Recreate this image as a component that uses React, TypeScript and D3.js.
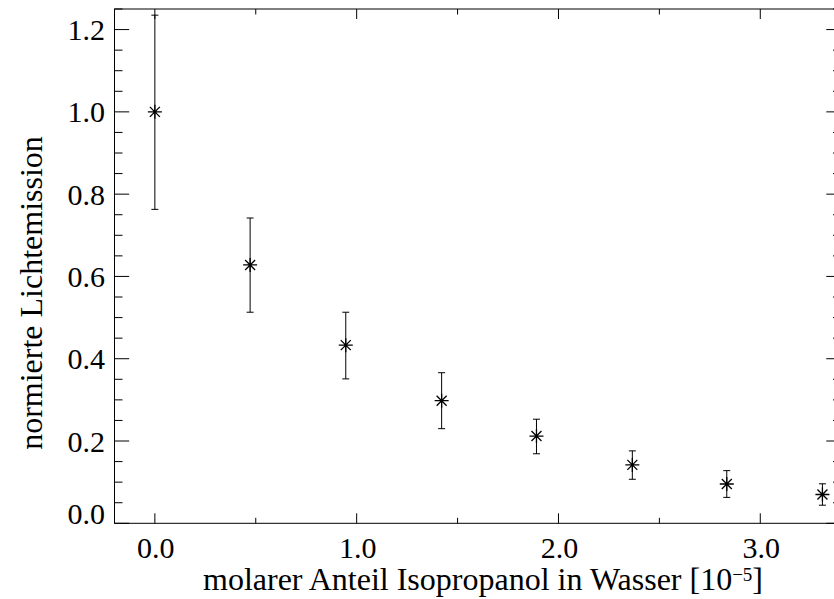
import React from "react";
import * as d3 from "d3";

const xValues = [0, 0.472, 0.946, 1.421, 1.891, 2.366, 2.834, 3.308];
const yValues = [1.0, 0.628, 0.433, 0.298, 0.212, 0.142, 0.0955, 0.07];
const yUpper = [1.235, 0.742, 0.513, 0.366, 0.253, 0.176, 0.128, 0.096];
const yLower = [0.763, 0.513, 0.351, 0.23, 0.169, 0.107, 0.063, 0.044];

const xMajorTicks = [0, 1, 2, 3];
const xMinorTicks = [0.5, 1.5, 2.5];
const yMajorTicks = [0, 0.2, 0.4, 0.6, 0.8, 1.0, 1.2];

const xTitle = "molarer Anteil Isopropanol in Wasser [10";
const xTitleExp = "\u22125";
const yTitle = "normierte Lichtemission";

const W = 834;
const H = 599;
const left = 114.5;
const right = 841;
const top = 9;
const bottom = 523.3;

export default function App() {
  const x = d3.scaleLinear().domain([-0.2, 3.4]).range([left, right]);
  const y = d3.scaleLinear().domain([0, 1.25]).range([bottom, top]);
  const fmt = d3.format(".1f");
  const yMinor = d3.range(0, 1.2501, 0.05).filter(
    (v) => !yMajorTicks.some((m) => Math.abs(m - v) < 1e-6)
  );
  const font = "'Liberation Serif', 'Times New Roman', serif";
  const stroke = "#000";
  const pts = xValues.map((xv, i) => ({
    x: x(xv),
    y: y(yValues[i]),
    hi: y(yUpper[i]),
    lo: y(yLower[i]),
  }));
  const star = (cx: number, cy: number) => {
    const a = 7;
    const d = 5;
    return `M${cx - a},${cy}H${cx + a}M${cx},${cy - a}V${cy + a}M${cx - d},${cy - d}L${cx + d},${cy + d}M${cx - d},${cy + d}L${cx + d},${cy - d}`;
  };
  return (
    <svg
      width={W}
      height={H}
      style={{ position: "absolute", left: 0, top: 0, background: "#fff" }}
    >
      <rect x={0} y={0} width={W} height={H} fill="#fff" />
      <g stroke={stroke} strokeWidth={1} fill="none">
        <rect x={left} y={top} width={right - left} height={bottom - top} />
        {yMajorTicks.map((v) => (
          <g key={"ym" + v}>
            <line x1={left} x2={left + 14.7} y1={y(v)} y2={y(v)} />
            <line x1={right} x2={right - 14.7} y1={y(v)} y2={y(v)} />
          </g>
        ))}
        {yMinor.map((v) => (
          <g key={"yn" + v}>
            <line x1={left} x2={left + 8} y1={y(v)} y2={y(v)} />
            <line x1={right} x2={right - 8} y1={y(v)} y2={y(v)} />
          </g>
        ))}
        {xMajorTicks.map((v) => (
          <g key={"xm" + v}>
            <line x1={x(v)} x2={x(v)} y1={bottom} y2={bottom - 10} />
            <line x1={x(v)} x2={x(v)} y1={top} y2={top + 10} />
          </g>
        ))}
        {xMinorTicks.map((v) => (
          <g key={"xn" + v}>
            <line x1={x(v)} x2={x(v)} y1={bottom} y2={bottom - 5.5} />
            <line x1={x(v)} x2={x(v)} y1={top} y2={top + 5.5} />
          </g>
        ))}
        {pts.map((p, i) => (
          <g key={"p" + i}>
            <line x1={p.x} x2={p.x} y1={p.hi} y2={p.lo} />
            <line x1={p.x - 3.5} x2={p.x + 3.5} y1={p.hi} y2={p.hi} />
            <line x1={p.x - 3.5} x2={p.x + 3.5} y1={p.lo} y2={p.lo} />
            <path d={star(p.x, p.y)} strokeWidth={1.3} />
          </g>
        ))}
      </g>
      <g fontFamily={font} fontSize={30} fill="#000">
        {yMajorTicks.map((v) => (
          <text
            key={"yl" + v}
            x={105}
            y={Math.min(y(v), bottom - 10)}
            textAnchor="end"
            dominantBaseline="central"
          >
            {fmt(v)}
          </text>
        ))}
        {xMajorTicks.map((v) => (
          <text key={"xl" + v} x={x(v) + 1} y={558} textAnchor="middle">
            {fmt(v)}
          </text>
        ))}
        <text x={483} y={590} textAnchor="middle" fontSize={32}>
          {xTitle}
          <tspan dy={-9} fontSize={19}>
            {xTitleExp}
          </tspan>
          <tspan dy={9}>]</tspan>
        </text>
        <text
          transform={`translate(42,${293}) rotate(-90)`}
          textAnchor="middle"
          fontSize={32}
        >
          {yTitle}
        </text>
      </g>
    </svg>
  );
}
